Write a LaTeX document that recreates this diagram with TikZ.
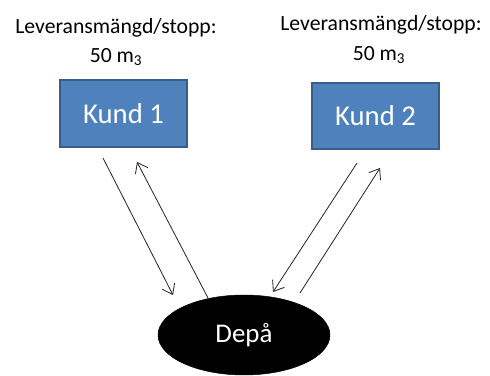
\documentclass[tikz,border=0pt]{standalone}
\usepackage{fontspec}
\setmainfont{Carlito}
\usetikzlibrary{shapes.geometric, arrows.meta}
\definecolor{boxfill}{HTML}{4F81BD}
\definecolor{boxline}{HTML}{385D8A}
\definecolor{arrowgray}{HTML}{262626}

\tikzset{
	kund/.style={draw=boxline, line width=1.5pt, fill=boxfill, text=white, minimum width=3.8cm, minimum height=2cm, inner sep=0pt, font=\fontsize{24.5}{28}\selectfont},
	info/.style={align=center, inner sep=0pt, font=\fontsize{18.5}{22}\selectfont},
	trip/.style={arrowgray, line width=0.7pt, -{Straight Barb[length=8pt, width=12pt]}}
}

\begin{document}
\begin{tikzpicture}[x=0.03cm, y=-0.03cm]

	\useasboundingbox (0,0) rectangle (490,376);

%customers
	\node [kund] (K1) at (123.5,113.5){Kund 1};
	\node [kund] (K2) at (375.5,116){Kund 2};

	\node [info] (L1) at (116,28){Leveransmängd/stopp:};
	\node [info] (M1) at (116,57){50 m\textsubscript{3}};
	\node [info] (L2) at (381,25){Leveransmängd/stopp:};
	\node [info] (M2) at (379,55){50 m\textsubscript{3}};

%depot
	\node [draw, ellipse, fill=black, text=white, minimum width=5.16cm, minimum height=2.4cm, inner sep=0pt, font=\fontsize{23}{26}\selectfont] (D) at (244,335){Depå};

%arrow ends
	\coordinate [] (A1) at (103,158){};
	\coordinate [] (A2) at (173,295){};
	\coordinate [] (B1) at (208,298){};
	\coordinate [] (B2) at (137,162){};
	\coordinate [] (C1) at (357,163){};
	\coordinate [] (C2) at (273,292){};
	\coordinate [] (E1) at (300,293){};
	\coordinate [] (E2) at (380,168){};

	\draw [trip] (A1) -- (A2);
	\draw [trip] (B1) -- (B2);
	\draw [trip] (C1) -- (C2);
	\draw [trip] (E1) -- (E2);

\end{tikzpicture}
\end{document}
